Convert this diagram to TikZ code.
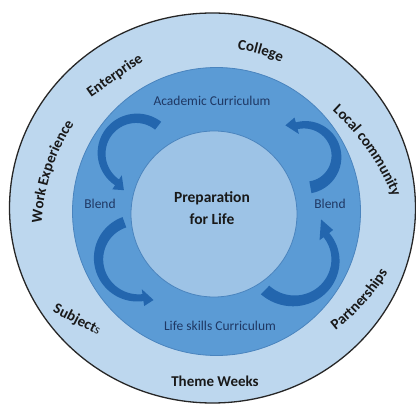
\documentclass[tikz,border=0pt]{standalone}
\usepackage{fontspec}
\setmainfont{Carlito}
\usetikzlibrary{decorations.text,calc}
\definecolor{outerblue}{HTML}{BDD7EE}
\definecolor{midblue}{HTML}{5B9BD5}
\definecolor{innerblue}{HTML}{9DC3E6}
\definecolor{arrowblue}{HTML}{2366AE}
\definecolor{navytext}{HTML}{1F3864}
\definecolor{ringedge}{HTML}{4A84BE}

% curved block arrow: cx, cy, tail angle, body-end angle, tip angle, r tail, r head, width tail, tip radius offset
\newcommand\blendarrow[9]{%
  \fill[arrowblue] plot[domain=#3:#4,samples=60,variable=\t]
    ({#1+(#6+(#7-(#6))*(\t-(#3))/((#4)-(#3))+(#8+(7-(#8))*(\t-(#3))/((#4)-(#3)))/2)*cos(\t)},
     {#2+(#6+(#7-(#6))*(\t-(#3))/((#4)-(#3))+(#8+(7-(#8))*(\t-(#3))/((#4)-(#3)))/2)*sin(\t)})
    -- ({#1+(#7+8.5)*cos(#4)},{#2+(#7+8.5)*sin(#4)})
    -- ({#1+(#7+#9)*cos(#5)},{#2+(#7+#9)*sin(#5)})
    -- ({#1+(#7-8.5)*cos(#4)},{#2+(#7-8.5)*sin(#4)})
    -- plot[domain=#4:#3,samples=60,variable=\t]
    ({#1+(#6+(#7-(#6))*(\t-(#3))/((#4)-(#3))-(#8+(7-(#8))*(\t-(#3))/((#4)-(#3)))/2)*cos(\t)},
     {#2+(#6+(#7-(#6))*(\t-(#3))/((#4)-(#3))-(#8+(7-(#8))*(\t-(#3))/((#4)-(#3)))/2)*sin(\t)})
    -- cycle;}

% text on a convex arc (letters point away from the arc centre)
\newcommand\arcTop[6]{%
  \pgfmathsetmacro\myaS{#3+90+#5}\pgfmathsetmacro\myaE{#3+90-#5}%
  \pgfmathsetmacro\myaN{#3-90}\pgfmathsetmacro\myrr{#4+4.5}%
  \path[decorate,decoration={text along path,text align=center,text={#6}}]
    ($(#1,#2)+(\myaN:\myrr pt)+(\myaS:#4pt)$) arc[start angle=\myaS,end angle=\myaE,radius=#4pt];}
% text on a concave arc (letters point toward the arc centre)
\newcommand\arcBot[6]{%
  \pgfmathsetmacro\myaS{#3-90-#5}\pgfmathsetmacro\myaE{#3-90+#5}%
  \pgfmathsetmacro\myaN{#3+90}\pgfmathsetmacro\myrr{#4-4.5}%
  \path[decorate,decoration={text along path,text align=center,text={#6}}]
    ($(#1,#2)+(\myaN:\myrr pt)+(\myaS:#4pt)$) arc[start angle=\myaS,end angle=\myaE,radius=#4pt];}

\newcommand\outerfmt{\color{black!90}\bfseries\fontsize{15}{18}\selectfont}

\begin{document}
\begin{tikzpicture}[x=1pt,y=1pt,
  innertext/.style={text=navytext,font=\fontsize{13.5}{16}\selectfont,inner sep=0pt},
  outertext/.style={text=black!90,font=\bfseries\fontsize{15}{18}\selectfont,inner sep=0pt},
  centertext/.style={text=black!90,font=\bfseries\fontsize{15.5}{22}\selectfont,align=center,inner sep=0pt}]
\useasboundingbox (0,0) rectangle (416,405);
\fill[white] (0,0) rectangle (416,405);

% rings
\fill[outerblue,draw=black!85,line width=1.3pt] (212.5,197) ellipse [x radius=203pt, y radius=195pt];
\fill[midblue,draw=ringedge,line width=0.8pt] (216.5,193.5) circle[radius=144pt];
\fill[innerblue,draw=ringedge,line width=0.8pt] (214,191) circle[radius=83pt];

% blend arrows
\blendarrow{136.6}{251.7}{52}{236}{251}{35}{35}{10}{4}
\blendarrow{137.4}{147}{110}{278}{291}{38}{40}{11}{5}
\blendarrow{305}{248.3}{-80}{105}{122}{31}{32}{12}{5}
\blendarrow{296}{147}{226}{397}{417}{44.5}{38}{12}{8}

% inner texts
\node[innertext] (acad) at (212,304) {Academic Curriculum};
\node[innertext] (life) at (220,79) {Life skills Curriculum};
\node[innertext] (blendL) at (100,201) {Blend};
\node[innertext] (blendR) at (330,201) {Blend};
\node[centertext] (prep) at (212,197) {Preparation\\for Life};

% outer texts
\arcTop{261}{355}{-16}{165}{22}{|\outerfmt|College}
\arcTop{371}{257}{-55}{240}{22}{|\outerfmt|Local community}
\arcTop{47}{235}{72}{200}{25}{|\outerfmt|Work Experience}
\arcBot{361}{104}{48}{220}{20}{|\outerfmt|Partnerships}
\node[outertext,rotate=35] (ent) at (115,329) {Enterprise};
\node[outertext,rotate=-27] (subj) at (77,85) {Subject{\mdseries\fontsize{13}{13}\selectfont s}};
\node[outertext] (theme) at (215,24) {Theme Weeks};
\end{tikzpicture}
\end{document}
